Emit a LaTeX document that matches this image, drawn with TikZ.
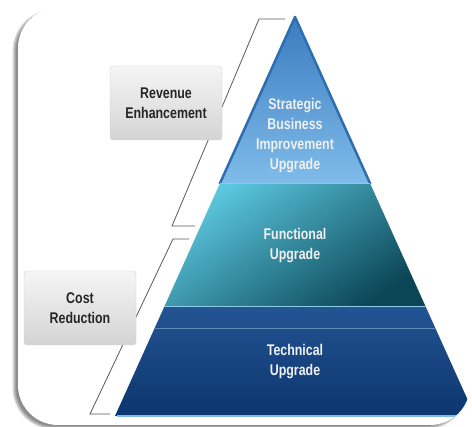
\documentclass[tikz,border=0pt]{standalone}
\usepackage{fontspec}
\setmainfont{Liberation Sans}[FakeStretch=0.8]
\usetikzlibrary{calc,shadows.blur}

\definecolor{tipdark}{HTML}{3A7CC0}
\definecolor{tiplight}{HTML}{80BCEA}
\definecolor{tipedge}{HTML}{2E6DB0}
\definecolor{midlight}{HTML}{5CC8E0}
\definecolor{middark}{HTML}{0B4656}
\definecolor{basetop}{HTML}{235493}
\definecolor{basebot}{HTML}{0C356E}
\definecolor{sepline}{HTML}{8FCBE6}
\definecolor{boxtop}{HTML}{F5F5F5}
\definecolor{boxbot}{HTML}{D4D4D4}

\begin{document}
\begin{tikzpicture}[x=1pt, y=-1pt,
  every node/.style={align=center, font=\fontsize{15.5}{20}\selectfont\bfseries},
  tier/.style={text=white!94!black},
  goal/.style={draw=black!18, rounded corners=3pt, top color=boxtop, bottom color=boxbot,
    minimum width=112pt, minimum height=74pt, text=black!85},
  bracket/.style={draw=black!65, line width=0.8pt}]
\useasboundingbox (0,0) rectangle (472,427);

% card
\fill[white, rounded corners=40pt,
  blur shadow={shadow xshift=-4pt, shadow yshift=-3pt, shadow opacity=45, shadow blur steps=8}]
  (18,8) rectangle (470,425);

% pyramid
\coordinate (A) at (295,17);
\coordinate (BL) at (115,416);
\coordinate (BR) at (475,416);
\coordinate (L1) at ($(A)!0.4185!(BL)$);
\coordinate (R1) at ($(A)!0.4185!(BR)$);
\coordinate (L2) at ($(A)!0.7268!(BL)$);
\coordinate (R2) at ($(A)!0.7268!(BR)$);
\coordinate (L3) at ($(A)!0.7794!(BL)$);
\coordinate (R3) at ($(A)!0.7794!(BR)$);

\begin{scope}
\clip[rounded corners=40pt] (18,8) rectangle (470,425);
\shade[top color=tipdark, bottom color=tiplight] (L1) [rounded corners=4pt] -- (A) [sharp corners] -- (R1) -- cycle;
\draw[tipedge, line width=2.5pt, line join=round] (L1) -- (A) -- (R1);
\shade[top color=midlight, bottom color=middark, shading angle=35] (L1) -- (R1) -- (R2) -- (L2) -- cycle;
\shade[top color=basetop, bottom color=basebot] (L2) -- (R2) -- (BR) -- (BL) -- cycle;
\draw[sepline, line width=1pt] (L1) -- (R1);
\draw[sepline, line width=1pt] (L2) -- (R2);
\draw[basetop!70!white, line width=0.6pt] (L3) -- (R3);
\draw[tiplight, line width=1.5pt] ($(BL)+(2,0)$) -- ($(BR)-(2,0)$);
\end{scope}

\node (strat) [tier] at (295,136) {Strategic\\Business\\Improvement\\Upgrade};
\node (func) [tier] at (295,246) {Functional\\Upgrade};
\node (tech) [tier] at (295,362) {Technical\\Upgrade};

% brackets
\coordinate (r1) at (285,19);
\coordinate (r2) at (259,19);
\coordinate (r3) at (172,226);
\coordinate (r4) at (195,226);
\coordinate (c1) at (189,239);
\coordinate (c2) at (173,239);
\coordinate (c3) at (90,414);
\coordinate (c4) at (110,414);
\draw[bracket] (r1) -- (r2) -- (r3) -- (r4);
\draw[bracket] (c1) -- (c2) -- (c3) -- (c4);

\node (rev) [goal] at (166,103) {Revenue\\Enhancement};
\node (cost) [goal] at (80,308) {Cost\\Reduction};
\end{tikzpicture}
\end{document}
